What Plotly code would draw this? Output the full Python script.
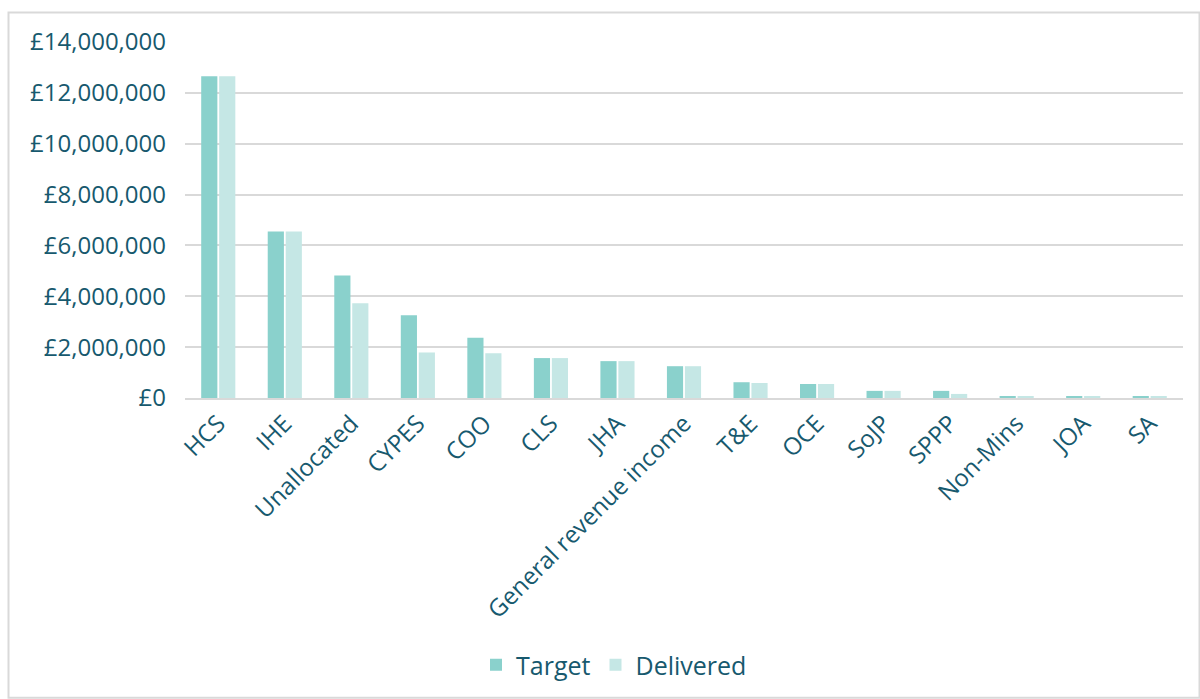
import plotly.graph_objects as go

categories = ["HCS", "IHE", "Unallocated", "CYPES", "COO", "CLS", "JHA",
              "General revenue income", "T&E", "OCE", "SoJP", "SPPP",
              "Non-Mins", "JOA", "SA"]
target = [12650000, 6550000, 4820000, 3250000, 2370000, 1570000, 1450000,
          1250000, 620000, 550000, 280000, 280000, 80000, 50000, 50000]
delivered = [12650000, 6550000, 3730000, 1790000, 1760000, 1570000, 1450000,
             1250000, 590000, 550000, 280000, 160000, 80000, 50000, 50000]

text_color = "#17596e"
font_family = "'Open Sans', 'Noto Sans', sans-serif"

fig = go.Figure()
fig.add_trace(go.Bar(name="Target", x=categories, y=target,
                     marker=dict(color="#8ad1cc", line=dict(width=0))))
fig.add_trace(go.Bar(name="Delivered", x=categories, y=delivered,
                     marker=dict(color="#c5e7e5", line=dict(width=0))))

L, R, T, B = 185, 17, 42, 300
W, H = 1200, 699
pw, ph = W - L - R, H - T - B

def px_x(x):
    return (x - L) / pw

def px_y(y):
    return (H - B - y) / ph

fig.add_shape(type="rect", xref="paper", yref="paper",
              x0=px_x(8.5), x1=px_x(1199.5), y0=px_y(699.5), y1=px_y(12.5),
              line=dict(color="#d9d9d9", width=2), fillcolor="rgba(0,0,0,0)",
              layer="below")

fig.update_layout(
    width=W, height=H,
    margin=dict(l=L, r=R, t=T, b=B),
    paper_bgcolor="white", plot_bgcolor="white",
    barmode="group", bargap=0.46, bargroupgap=0.1,
    font=dict(family=font_family, size=24, color=text_color),
    legend=dict(orientation="h", x=px_x(614), y=px_y(665),
                xanchor="center", yanchor="middle",
                font=dict(size=25, color=text_color),
                itemwidth=30, traceorder="normal"),
    xaxis=dict(tickangle=-45, showgrid=False, showline=True,
               linecolor="#d9d9d9", linewidth=2, ticks="",
               tickfont=dict(size=24, color=text_color)),
    yaxis=dict(range=[0, 14000000], dtick=2000000, tickprefix="£",
               tickformat=",d", showgrid=True, gridcolor="#d9d9d9",
               gridwidth=2, zeroline=False, showline=False,
               ticklabelstandoff=18,
               tickfont=dict(size=24, color=text_color)),
)

fig.write_html("out.html")
